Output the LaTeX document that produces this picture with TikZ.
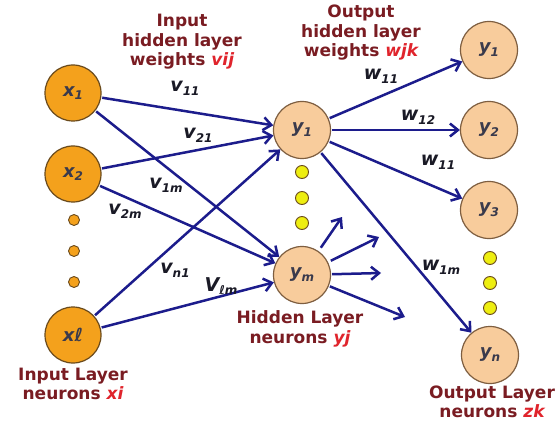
\documentclass[tikz,border=0pt]{standalone}
\usepackage{fontspec}
\setmainfont{DejaVu Sans}
\usetikzlibrary{arrows.meta}
\definecolor{navy}{HTML}{1C1C8C}
\definecolor{inpfill}{HTML}{F4A11C}
\definecolor{inpdraw}{HTML}{6A4A1C}
\definecolor{hidfill}{HTML}{F8CC9C}
\definecolor{hiddraw}{HTML}{7E5E40}
\definecolor{titlered}{HTML}{7A1C22}
\definecolor{varred}{HTML}{E0242C}
\definecolor{labdark}{HTML}{1A1A26}
\definecolor{nodegray}{HTML}{3A3A4C}
\definecolor{dotyellow}{HTML}{EEEE10}
\newcommand{\lowidx}[1]{\raisebox{-0.35ex}{\fontsize{12}{12}\selectfont #1}}
\begin{document}
\begin{tikzpicture}[x=1pt,y=-1pt,
  inp/.style={circle,minimum size=56pt,inner sep=0pt,fill=inpfill,draw=inpdraw,line width=1.2pt,
    font=\fontsize{18}{20}\selectfont\bfseries\itshape,text=nodegray},
  hid/.style={circle,minimum size=57pt,inner sep=0pt,fill=hidfill,draw=hiddraw,line width=1.2pt,
    font=\fontsize{18}{20}\selectfont\bfseries\itshape,text=nodegray},
  odot/.style={circle,minimum size=11pt,inner sep=0pt,fill=inpfill,draw=inpdraw,line width=0.9pt},
  ydot/.style={circle,minimum size=13pt,inner sep=0pt,fill=dotyellow,draw=inpdraw,line width=0.9pt},
  conn/.style={draw=navy,line width=2.5pt,-{Straight Barb[length=8pt,width=13pt,line width=2.5pt]},shorten <=1pt},
  txt/.style={font=\fontsize{17}{19.5}\selectfont\bfseries,text=titlered,align=center,inner sep=0pt},
  elab/.style={font=\fontsize{19}{20}\selectfont\bfseries\itshape,text=labdark,inner sep=0pt}
]
\useasboundingbox (0,0) rectangle (557,425);
\fill[white] (0,0) rectangle (557,425);

% input layer
\node[inp] (x1) at (73,93) {x\lowidx{1}};
\node[inp] (x2) at (73,174) {x\lowidx{2}};
\node[inp] (xl) at (73,335) {xℓ};
\node[odot] (d1) at (74,220) {};
\node[odot] (d2) at (74,251) {};
\node[odot] (d3) at (74,282) {};

% hidden layer
\node[hid] (y1) at (302,130) {y\lowidx{1}};
\node[hid] (ym) at (302,275) {y\lowidx{m}};
\node[ydot] (h1) at (302,172) {};
\node[ydot] (h2) at (302,198) {};
\node[ydot] (h3) at (302,223) {};

% output layer
\node[hid] (o1) at (489,50) {y\lowidx{1}};
\node[hid] (o2) at (489,130) {y\lowidx{2}};
\node[hid] (o3) at (489,210) {y\lowidx{3}};
\node[hid] (on) at (490,355) {y\lowidx{n}};
\node[ydot] (g1) at (490,258) {};
\node[ydot] (g2) at (490,283) {};
\node[ydot] (g3) at (490,308) {};

% input -> hidden
\draw[conn] (x1) -- (y1);
\draw[conn] (x1) -- (ym);
\draw[conn] (x2) -- (y1);
\draw[conn] (x2) -- (ym);
\draw[conn] (xl) -- (y1);
\draw[conn] (xl) -- (ym);

% hidden -> output
\draw[conn] (y1) -- (o1);
\draw[conn] (y1) -- (o2);
\draw[conn] (y1) -- (o3);
\draw[conn] (y1) -- (on);

% short arrows from ym
\coordinate (a1) at (342,217);
\coordinate (a2) at (379,237);
\coordinate (a3) at (381,273);
\coordinate (a4) at (405,317);
\draw[conn,shorten <=4pt] (ym) -- (a1);
\draw[conn,shorten <=3pt] (ym) -- (a2);
\draw[conn] (ym) -- (a3);
\draw[conn] (ym) -- (a4);

% edge labels
\node[elab] (lv11) at (185,88) {v\lowidx{11}};
\node[elab] (lv21) at (198,135) {v\lowidx{21}};
\node[elab] (lv1m) at (166,185) {v\lowidx{1m}};
\node[elab] (lv2m) at (125,211) {v\lowidx{2m}};
\node[elab] (lvn1) at (175,270) {v\lowidx{n1}};
\node[elab] (lvlm) at (221,286) {V\lowidx{ℓm}};
\node[elab] (lw11a) at (381,76) {w\lowidx{11}};
\node[elab] (lw12) at (418,117) {w\lowidx{12}};
\node[elab] (lw11b) at (438,162) {w\lowidx{11}};
\node[elab] (lw1m) at (441,267) {w\lowidx{1m}};

% titles
\node[txt] (tin) at (182,42) {Input\\hidden layer\\weights {\color{varred}\itshape vij}};
\node[txt] (tout) at (361,33) {Output\\hidden layer\\weights {\color{varred}\itshape wjk}};
\node[txt] (tinl) at (73,384) {Input Layer\\neurons {\color{varred}\itshape xi}};
\node[txt] (thid) at (300,329) {Hidden Layer\\neurons {\color{varred}\itshape yj}};
\node[txt] (toutl) at (492,402) {Output Layer\\neurons {\color{varred}\itshape zk}};
\end{tikzpicture}
\end{document}
